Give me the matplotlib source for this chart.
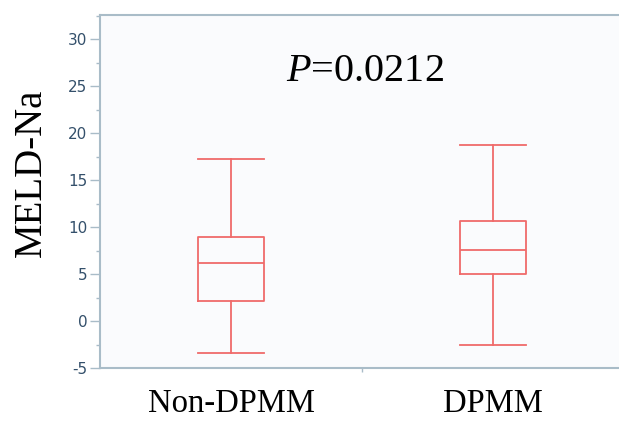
import matplotlib
matplotlib.use("Agg")
import matplotlib.pyplot as plt
from matplotlib.ticker import MultipleLocator, FixedLocator

plt.rcParams["mathtext.fontset"] = "custom"
plt.rcParams["mathtext.rm"] = "Liberation Serif"
plt.rcParams["mathtext.it"] = "Liberation Serif:italic"
plt.rcParams["axes.unicode_minus"] = False

# Werte
groups = ["Non-DPMM", "DPMM"]
whislo = [-3.4, -2.55]
q1 = [2.1, 5.0]
med = [6.2, 7.6]
q3 = [9.0, 10.7]
whishi = [17.25, 18.8]
p_text = "0.0212"

box_col = "#f06a6a"
spine_col = "#a9bcc8"
tick_col = "#34506b"

fig = plt.figure(figsize=(6.19, 4.21), dpi=100)
ax = fig.add_axes([0.1616, 0.1259, 0.8465, 0.8385])
ax.set_facecolor("#fafbfd")

stats = []
for i in range(len(groups)):
    stats.append(dict(whislo=whislo[i], q1=q1[i], med=med[i], q3=q3[i],
                      whishi=whishi[i], fliers=[], label=groups[i]))

lp = dict(color=box_col, linewidth=1.3)
ax.bxp(stats, positions=[0, 1], widths=0.25, showfliers=False,
       boxprops=lp, medianprops=lp, whiskerprops=lp, capprops=lp,
       capwidths=0.25)

ax.set_xlim(-0.5, 1.5)
ax.set_ylim(-5, 32.6)

ax.yaxis.set_major_locator(MultipleLocator(5))
ax.yaxis.set_minor_locator(MultipleLocator(2.5))
ax.tick_params(axis="y", which="major", length=7, width=1, color=spine_col,
               labelcolor=tick_col, labelsize=11, pad=2)
ax.tick_params(axis="y", which="minor", length=3, width=1, color=spine_col)

# Trennstrich zwischen den Gruppen, Namen als Nebenticks
ax.xaxis.set_major_locator(FixedLocator([0.5]))
ax.xaxis.set_major_formatter(plt.NullFormatter())
ax.xaxis.set_minor_locator(FixedLocator([0, 1]))
ax.set_xticklabels(groups, minor=True)
ax.tick_params(axis="x", which="major", length=3, width=1, color=spine_col)
ax.tick_params(axis="x", which="minor", length=0, pad=15, labelsize=23.5)
for lab in ax.get_xticklabels(minor=True):
    lab.set_fontfamily("Liberation Serif")

for s in ["left", "bottom", "top"]:
    ax.spines[s].set_color(spine_col)
    ax.spines[s].set_linewidth(1.5)
ax.spines["right"].set_visible(False)

ax.set_ylabel("MELD-Na", fontsize=28, fontfamily="Liberation Serif", labelpad=10)
ax.yaxis.set_label_coords(-0.096, 0.552)

ax.text(0.51, 25.6, "$\\it{P}$=" + p_text, ha="center", va="baseline",
        fontsize=29, fontfamily="Liberation Serif")

fig.savefig("out.png", dpi=100, facecolor="white")
